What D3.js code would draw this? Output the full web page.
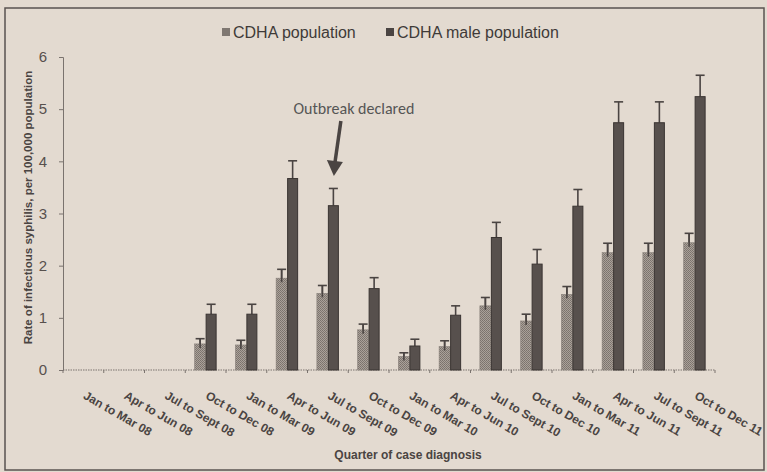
<!DOCTYPE html>
<html><head><meta charset="utf-8">
<script src="https://cdn.jsdelivr.net/npm/d3@7"></script>
<style>body{margin:0;background:#e3dad0;} svg{display:block;}</style>
</head><body>
<svg id="c" width="767" height="472"></svg>
<script>
const categories = ["Jan to Mar 08","Apr to Jun 08","Jul to Sept 08","Oct to Dec 08","Jan to Mar 09","Apr to Jun 09","Jul to Sept 09","Oct to Dec 09","Jan to Mar 10","Apr to Jun 10","Jul to Sept 10","Oct to Dec 10","Jan to Mar 11","Apr to Jun 11","Jul to Sept 11","Oct to Dec 11"];
const popValues = [null,null,null,0.50,0.48,1.76,1.47,0.77,0.26,0.45,1.23,0.94,1.45,2.25,2.25,2.44];
const popUpper  = [null,null,null,0.60,0.57,1.93,1.62,0.88,0.33,0.56,1.39,1.07,1.60,2.43,2.43,2.62];
const maleValues = [null,null,null,1.07,1.07,3.67,3.15,1.56,0.46,1.05,2.54,2.03,3.14,4.74,4.74,5.24];
const maleUpper  = [null,null,null,1.26,1.26,4.01,3.48,1.77,0.59,1.23,2.83,2.31,3.46,5.14,5.14,5.65];
const seriesNames = ["CDHA population","CDHA male population"];
const yTicks = [0,1,2,3,4,5,6];
const annotation = {label:"Outbreak declared", category:"Jul to Sept 09"};

(function(){
const svg = d3.select("#c");
const defs = svg.append("defs");
const pat = defs.append("pattern").attr("id","hatch").attr("width",2).attr("height",2).attr("patternUnits","userSpaceOnUse");
pat.append("rect").attr("width",2).attr("height",2).attr("fill","#aaa199");
pat.append("rect").attr("x",0).attr("y",0).attr("width",1).attr("height",1).attr("fill","#7a726c");
pat.append("rect").attr("x",1).attr("y",1).attr("width",1).attr("height",1).attr("fill","#807872");

svg.append("rect").attr("x",0).attr("y",0).attr("width",767).attr("height",472).attr("fill","#e3dad0");
svg.append("rect").attr("x",5).attr("y",8).attr("width",759).attr("height",462)
  .attr("fill","none").attr("stroke","#5a5350").attr("stroke-width",1.5);

const pl=63, pr=715, pt=57, pb=370;
const x = d3.scaleBand().domain(categories).range([pl,pr]).paddingInner(0.46).paddingOuter(0.23);
const xs = d3.scaleBand().domain(seriesNames).range([0,x.bandwidth()]);
const y = d3.scaleLinear().domain([0,6]).range([pb,pt]);

const textCol = "#4a4442";
const fontNarrow = "'Liberation Sans Narrow','Arial Narrow','Liberation Sans',Arial,sans-serif";

const ya = svg.append("g").attr("transform",`translate(${pl},0)`)
  .call(d3.axisLeft(y).tickValues(yTicks).tickSize(4).tickPadding(12).tickFormat(d3.format("d")));
ya.select(".domain").attr("stroke","#7a736e").attr("stroke-width",1);
ya.selectAll(".tick line").attr("stroke","#7a736e");
ya.selectAll(".tick text").attr("fill","#57504d").style("font-family","'Liberation Sans',Arial,sans-serif").style("font-size","15px");

const xa = svg.append("g").attr("transform",`translate(0,${pb})`)
  .call(d3.axisBottom(x).tickSize(0).tickFormat(""));
xa.select(".domain").attr("stroke","#7a736e").attr("stroke-dasharray","1.5,1").attr("d",`M${pl},0H${pr}`);
const bounds = d3.range(categories.length+1).map(i=> pl + i*(pr-pl)/categories.length);
xa.selectAll(".bt").data(bounds).join("line").attr("class","bt")
  .attr("x1",d=>d).attr("x2",d=>d).attr("y1",0).attr("y2",3).attr("stroke","#7a736e");
xa.selectAll(".tick text").remove();
svg.append("g").selectAll("text").data(categories).join("text")
  .attr("transform",d=>`translate(${x(d)+x.bandwidth()/2-1},${pb+28}) rotate(30)`)
  .attr("fill",textCol).style("font-family",fontNarrow).style("font-weight","bold").style("font-size","12px")
  .text(d=>d);

const data = categories.map((c,i)=>({c, pop:popValues[i], popU:popUpper[i], male:maleValues[i], maleU:maleUpper[i]}));
const g = svg.append("g");
const bw = xs.bandwidth();
data.forEach(d=>{
  if(d.pop==null) return;
  const x0 = x(d.c);
  [[seriesNames[0],d.pop,d.popU],[seriesNames[1],d.male,d.maleU]].forEach(([s,v,u])=>{
    const cx = x0+xs(s)+bw/2;
    g.append("line").attr("x1",cx).attr("x2",cx).attr("y1",y(v)).attr("y2",y(u)).attr("stroke","#4a4442").attr("stroke-width",1.6);
    g.append("line").attr("x1",cx-4.5).attr("x2",cx+4.5).attr("y1",y(u)).attr("y2",y(u)).attr("stroke","#4a4442").attr("stroke-width",1.6);
  });
  g.append("rect").attr("x",x0+xs(seriesNames[0])).attr("y",y(d.pop)).attr("width",bw).attr("height",y(0)-y(d.pop))
    .attr("fill","url(#hatch)").attr("stroke","#8a827c").attr("stroke-width",0.6);
  g.append("rect").attr("x",x0+xs(seriesNames[1])+0.5).attr("y",y(d.male)).attr("width",bw-1).attr("height",y(0)-y(d.male))
    .attr("fill","#57504d").attr("stroke","#3a3432").attr("stroke-width",1);
  const pcx = x0+xs(seriesNames[0])+bw/2;
  g.append("line").attr("x1",pcx).attr("x2",pcx).attr("y1",y(d.pop)+4).attr("y2",y(d.popU)).attr("stroke","#4a4442").attr("stroke-width",1.6);
});

const lg = svg.append("g").style("font-family","'Liberation Sans',Arial,sans-serif").style("font-size","16px");
const legendX = [222, 386];
seriesNames.forEach((s,i)=>{
  lg.append("rect").attr("x",legendX[i]).attr("y",28).attr("width",8).attr("height",8)
    .attr("fill", i===0 ? "#7f7771" : "#4a4442");
  lg.append("text").attr("x",legendX[i]+11).attr("y",37.5).attr("fill","#3f3a38").text(s);
});

svg.append("text").attr("transform",`translate(32,${(pt+pb)/2 - 6}) rotate(-90)`).attr("text-anchor","middle")
  .attr("fill",textCol).style("font-family",fontNarrow).style("font-weight","bold").style("font-size","11.5px")
  .text("Rate of infectious syphilis, per 100,000 population");
svg.append("text").attr("x",408).attr("y",459).attr("text-anchor","middle")
  .attr("fill",textCol).style("font-family",fontNarrow).style("font-weight","bold").style("font-size","12px")
  .text("Quarter of case diagnosis");

const ax = x(annotation.category)+x.bandwidth()/2;
svg.append("text").attr("x",ax+26).attr("y",114).attr("text-anchor","middle")
  .attr("fill","#555").style("font-family","Carlito,'Open Sans','Liberation Sans',sans-serif").style("font-size","16px")
  .text(annotation.label);
svg.append("line").attr("x1",ax+13).attr("y1",121).attr("x2",ax+7).attr("y2",163)
  .attr("stroke","#4a4442").attr("stroke-width",3.5);
svg.append("path").attr("d",`M${ax-1},160 L${ax+15},162 L${ax+6},176 Z`).attr("fill","#4a4442");
})();
</script>
</body></html>
